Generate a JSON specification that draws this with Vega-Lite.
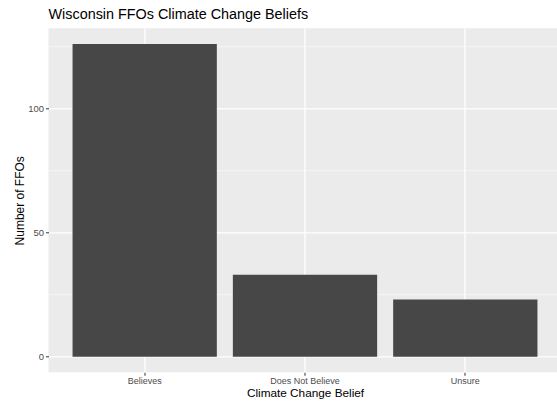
{
  "$schema": "https://vega.github.io/schema/vega-lite/v6.json",
  "width": 513,
  "height": 344,
  "autosize": {"type": "none"},
  "padding": {"left": 48.5, "top": 28.3, "right": 0, "bottom": 30},
  "background": "white",
  "title": {
    "text": "Wisconsin FFOs Climate Change Beliefs",
    "anchor": "start",
    "frame": "group",
    "font": "Liberation Sans",
    "fontSize": 14.4,
    "fontWeight": "normal",
    "color": "black",
    "offset": 6
  },
  "data": {
    "values": [
      {"belief": "Believes", "count": 126},
      {"belief": "Does Not Believe", "count": 33},
      {"belief": "Unsure", "count": 23}
    ]
  },
  "layer": [
    {
      "mark": {"type": "bar", "color": "#474747"},
      "encoding": {
        "x": {
          "field": "belief",
          "type": "nominal",
          "sort": null,
          "scale": {"paddingInner": 0.1, "paddingOuter": 0.15},
          "axis": {
            "title": "Climate Change Belief",
            "labelAngle": 0,
            "bandPosition": 0.5,
            "grid": true,
            "gridColor": "white",
            "gridWidth": 1.3,
            "domain": false,
            "tickSize": 3,
            "tickColor": "#333333",
            "labelPadding": 1.5,
            "labelFont": "Liberation Sans",
            "labelFontSize": 9,
            "labelColor": "#4D4D4D",
            "titleFont": "Liberation Sans",
            "titleFontSize": 11.8,
            "titleFontWeight": "normal",
            "titleColor": "black",
            "titlePadding": 1.5
          }
        },
        "y": {
          "field": "count",
          "type": "quantitative",
          "scale": {"domain": [-6.3, 132.3], "nice": false, "zero": false},
          "axis": {
            "title": "Number of FFOs",
            "values": [0, 50, 100],
            "grid": true,
            "gridColor": "white",
            "gridWidth": 1.3,
            "domain": false,
            "tickSize": 3,
            "tickColor": "#333333",
            "labelPadding": 2,
            "labelFont": "Liberation Sans",
            "labelFontSize": 9.5,
            "labelColor": "#4D4D4D",
            "titleFont": "Liberation Sans",
            "titleFontSize": 12,
            "titleFontWeight": "normal",
            "titleColor": "black",
            "titlePadding": 1
          }
        }
      }
    },
    {
      "mark": {"type": "bar", "opacity": 0},
      "encoding": {
        "x": {"field": "belief", "type": "nominal", "sort": null},
        "y": {
          "field": "count",
          "type": "quantitative",
          "axis": {
            "orient": "right",
            "title": null,
            "values": [25, 75, 125],
            "grid": true,
            "gridColor": "white",
            "gridWidth": 0.6,
            "domain": false,
            "ticks": false,
            "labels": false
          }
        }
      }
    }
  ],
  "resolve": {"axis": {"y": "independent"}},
  "config": {
    "view": {"stroke": null, "fill": "#EBEBEB"}
  }
}
